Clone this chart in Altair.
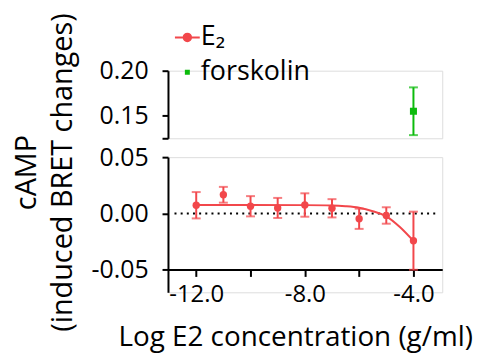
import altair as alt
import pandas as pd

# ---- data ----
log_conc = [-12, -11, -10, -9, -8, -7, -6, -5, -4]
e2_mean = [0.0073, 0.0166, 0.0064, 0.0049, 0.0075, 0.0046, -0.0047, -0.0018, -0.0242]
e2_sem = [0.0117, 0.0070, 0.0090, 0.0089, 0.0104, 0.0081, 0.0090, 0.0073, 0.0258]

fit_x = [-12.0, -10.0, -8.0, -7.0, -6.5, -6.0, -5.5, -5.0, -4.5, -4.0]
fit_y = [0.0075, 0.0075, 0.0074, 0.0071, 0.0064, 0.0050, 0.0020, -0.0025, -0.0120, -0.0244]

forsk_x = [-4]
forsk_mean = [0.155]
forsk_sem = [0.0265]

zero_x = [-12.8, -3.05]

series = ["E\u2082", "forskolin"]
colors = ["#F2474B", "#0CBB0C"]

x_ticks = [-12, -10, -8, -6, -4]
top_ticks = [0.125, 0.15, 0.20]
bottom_ticks = [-0.05, 0.0, 0.05]

# ---- tables ----
e2 = pd.DataFrame({"x": log_conc, "y": e2_mean,
                   "lo": [m - s for m, s in zip(e2_mean, e2_sem)],
                   "hi": [m + s for m, s in zip(e2_mean, e2_sem)],
                   "series": series[0]})
fit = pd.DataFrame({"x": fit_x, "y": fit_y, "series": series[0]})
fk = pd.DataFrame({"x": forsk_x, "y": forsk_mean,
                   "lo": [m - s for m, s in zip(forsk_mean, forsk_sem)],
                   "hi": [m + s for m, s in zip(forsk_mean, forsk_sem)],
                   "series": series[1]})
zero = pd.DataFrame({"x": [zero_x[0]], "x2": [zero_x[1]], "y": [0.0]})

FONT = "Open Sans"
W = 276
xscale = alt.Scale(domain=[-13.04, -2.94], nice=False, zero=False)

path_e2 = "M-1,0H1M-0.3,0A0.3,0.3 0 1,1 0.3,0A0.3,0.3 0 1,1 -0.3,0Z"
path_sq = "M-0.12,-0.12H0.12V0.12H-0.12Z"

color = alt.Color(
    "series:N", scale=alt.Scale(domain=series, range=colors),
    legend=alt.Legend(
        title=None, orient="none", legendX=6, legendY=-47,
        labelFont=FONT, labelFontSize=27, labelColor="black",
        symbolSize=625, rowPadding=7, labelOffset=0,
        symbolType={"expr": f"datum.value == 'forskolin' ? '{path_sq}' : '{path_e2}'"},
        symbolStrokeColor={"expr": "scale('color', datum.value)"},
        symbolFillColor={"expr": "scale('color', datum.value)"},
        symbolStrokeWidth=2, symbolOpacity=1,
    ))

axis_common = dict(grid=False, domainColor="black", domainWidth=2, tickColor="black",
                   tickWidth=2, labelFont=FONT,
                   labelColor="black", titleFont=FONT,
                   titleFontWeight="normal", titleColor="black")

# ---- top panel (0.125 .. 0.20) ----
ytop = alt.Scale(domain=[0.125, 0.20], nice=False, zero=False)
ytop_axis = alt.Axis(values=top_ticks, title=None, tickSize=6, labelPadding=14, labelFontSize=25,
                     labelExpr="datum.value < 0.13 ? '' : format(datum.value, '.2f')",
                     **axis_common)
xt = alt.X("x:Q", scale=xscale, axis=None)
def yt(f):
    return alt.Y(f, scale=ytop, axis=ytop_axis)

top_base = alt.Chart(fk)
top = alt.layer(
    top_base.mark_rule(strokeWidth=2).encode(x=xt, y=yt("lo:Q"), y2="hi:Q", color=color),
    top_base.mark_tick(orient="horizontal", size=9, thickness=2).encode(
        x=xt, y=yt("lo:Q"), color=color),
    top_base.mark_tick(orient="horizontal", size=9, thickness=2).encode(
        x=xt, y=yt("hi:Q"), color=color),
    top_base.mark_square(opacity=1, size=50).encode(x=xt, y=yt("y:Q"), color=color),
).properties(width=W, height=68)

# ---- bottom panel (-0.07 .. 0.05) ----
ybot = alt.Scale(domain=[-0.07, 0.05], nice=False, zero=False)
ybot_axis = alt.Axis(values=bottom_ticks, title=["cAMP", "(induced BRET changes)"],
                     labelExpr="replace(format(datum.value, '.2f'), '\u2212', '-')",
                     titleFontSize=29, titleY=15, titleLineHeight=36, titlePadding=14,
                     tickSize=6, labelPadding=14, labelFontSize=25, **axis_common)
x_axis = alt.Axis(values=x_ticks, title="Log E2 concentration (g/ml)",
                  labelExpr="datum.value % 4 == 0 ? datum.value + '.0' : ''",
                  offset=-23, titleX=128, titleFontSize=28, titlePadding=18,
                  tickSize=7, labelPadding=6, labelFontSize=24, **axis_common)
xb = alt.X("x:Q", scale=xscale, axis=x_axis)
def yb(f):
    return alt.Y(f, scale=ybot, axis=ybot_axis)

zero_line = alt.Chart(zero).mark_rule(color="black", strokeWidth=2, strokeDash=[2, 4.2]).encode(
    x=xb, x2="x2:Q", y=yb("y:Q"))
fit_line = alt.Chart(fit).mark_line(strokeWidth=2, interpolate="monotone").encode(
    x=xb, y=yb("y:Q"), color=color)
eb = alt.Chart(e2)
bottom = alt.layer(
    zero_line,
    fit_line,
    eb.mark_rule(strokeWidth=2).encode(x=xb, y=yb("lo:Q"), y2="hi:Q", color=color),
    eb.mark_tick(orient="horizontal", size=9, thickness=2).encode(x=xb, y=yb("lo:Q"), color=color),
    eb.mark_tick(orient="horizontal", size=9, thickness=2).encode(x=xb, y=yb("hi:Q"), color=color),
    eb.mark_circle(opacity=1, size=55).encode(x=xb, y=yb("y:Q"), color=color),
).properties(width=W, height=136)

chart = alt.vconcat(top, bottom, spacing=19, bounds="flush").configure_view(stroke=None).configure(
    font=FONT, padding={"left": 4, "top": 3, "right": 5, "bottom": 0})

chart.save("out.html", embed_options={"renderer": "svg", "actions": False})
